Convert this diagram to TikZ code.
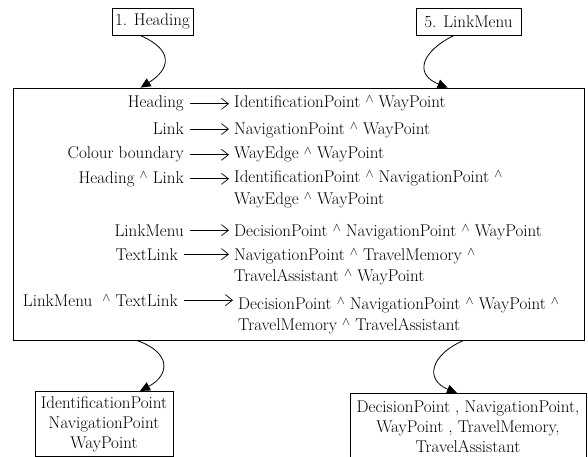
\documentclass[tikz,border=0pt]{standalone}
\usepackage{fontspec}
\usetikzlibrary{arrows.meta,calc,positioning}
\newcommand{\andsym}{\raisebox{5pt}{\fontsize{12}{12}\selectfont$\wedge$}}

\begin{document}
\begin{tikzpicture}[x=1pt,y=-1pt]
		\tikzstyle{txt}=[font=\fontsize{17}{21}\selectfont,inner sep=0pt]
		\tikzstyle{src}=[draw,line width=0.8pt,font=\fontsize{17}{21}\selectfont,minimum height=27pt,inner xsep=3pt]
		\tikzstyle{res}=[draw,line width=0.8pt,font=\fontsize{17}{20}\selectfont,align=center,inner xsep=1pt]
		\tikzstyle{maps}=[line width=0.7pt,shorten <=6pt,shorten >=5pt,-{Straight Barb[length=7pt,width=11pt]}]
		\tikzstyle{flow}=[line width=0.8pt,-{Triangle[length=10pt,width=9pt]}]

		\useasboundingbox (0,0) rectangle (588,457);

		\node[src](h1) at (152.5,21.5){1. Heading};
		\node[src,minimum width=105pt](h5) at (468.5,21.5){5. LinkMenu};

		\node[draw,line width=0.8pt,minimum width=571pt,minimum height=252pt](rules) at (298.5,214){};

		\node[txt,anchor=base east](l1) at (184,108){Heading};
		\node[txt,anchor=base east](l2) at (184,135){Link};
		\node[txt,anchor=base east](l3) at (184,159){Colour boundary};
		\node[txt,anchor=base east](l4) at (184,183){Heading \andsym{} Link};
		\node[txt,anchor=base east](l5) at (184,236){LinkMenu};
		\node[txt,anchor=base east](l6) at (178,260){TextLink};
		\node[txt,anchor=base east](l7) at (178,306){LinkMenu\ \ \andsym{} TextLink};

		% two-line nodes sit on their last baseline
		\node[txt,anchor=base west,align=left](r1) at (234,108){IdentificationPoint \andsym{} WayPoint};
		\node[txt,anchor=base west,align=left](r2) at (234,135){NavigationPoint \andsym{} WayPoint};
		\node[txt,anchor=base west,align=left](r3) at (234,159){WayEdge \andsym{} WayPoint};
		\node[txt,anchor=base west,align=left](r4) at (234,204){IdentificationPoint \andsym{} NavigationPoint \andsym{}\\WayEdge \andsym{} WayPoint};
		\node[txt,anchor=base west,align=left](r5) at (234,236){DecisionPoint \andsym{} NavigationPoint \andsym{} WayPoint};
		\node[txt,anchor=base west,align=left](r6) at (234,281){NavigationPoint \andsym{} TravelMemory \andsym{}\\TravelAssistant \andsym{} WayPoint};
		\node[txt,anchor=base west,align=left](r7) at (238,330){DecisionPoint \andsym{} NavigationPoint \andsym{} WayPoint \andsym{}\\TravelMemory \andsym{} TravelAssistant};

		\node[res,minimum width=138pt,minimum height=65pt,anchor=north](o1) at (104,391){IdentificationPoint\\NavigationPoint\\WayPoint};
		\node[res,minimum width=236pt,minimum height=67pt,anchor=north](o5) at (468,393){DecisionPoint , NavigationPoint,\\WayPoint , TravelMemory,\\TravelAssistant};

		\draw[maps] (l1.east) -- (l1.east -| r1.west);
		\draw[maps] (l2.east) -- (l2.east -| r2.west);
		\draw[maps] (l3.east) -- (l3.east -| r3.west);
		\draw[maps] (l4.east) -- (l4.east -| r4.west);
		\draw[maps] (l5.east) -- (l5.east -| r5.west);
		\draw[maps] (l6.east) -- (l6.east -| r6.west);
		\draw[maps] (l7.east) -- (l7.east -| r7.west);

		\draw[flow] ([xshift=-12.5pt]h1.south) .. controls +(35,15) and +(29,-18) .. ($(rules.north west)+(128,0)$);
		\draw[flow] ([xshift=-14.5pt]h5.south) .. controls +(-34,17) and +(-33,-13) .. ($(rules.north west)+(435,0)$);
		\draw[flow] ($(rules.south west)+(124,0)$) .. controls +(35,12) and +(30,-16) .. ([xshift=36pt]o1.north);
		\draw[flow] ($(rules.south west)+(451,0)$) .. controls +(-34,15) and +(-32,-13) .. ([xshift=-11pt]o5.north);
	\end{tikzpicture}
\end{document}
